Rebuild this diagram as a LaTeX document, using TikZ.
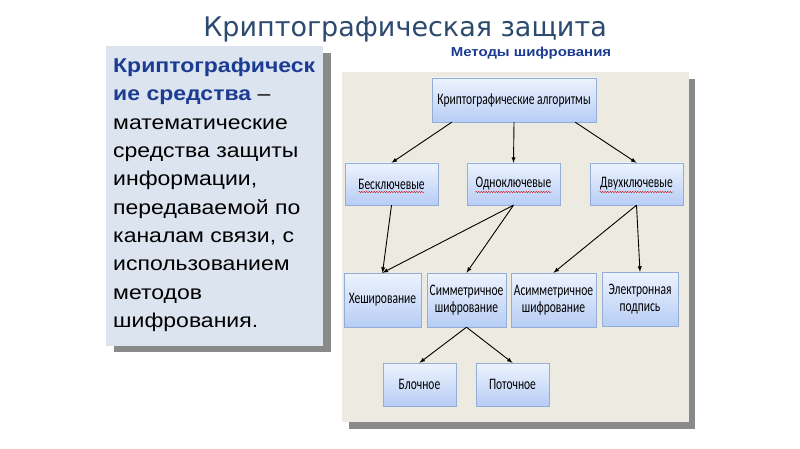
\documentclass[tikz,border=0pt]{standalone}
\usepackage{fontspec}
\setmainfont{Liberation Sans}
\newfontfamily\titlefont{DejaVu Sans}
\newfontfamily\notefont[FakeStretch=1.15]{Liberation Sans}
\newfontfamily\boxfont[FakeStretch=0.72]{Carlito}
\usetikzlibrary{shadings,decorations.pathmorphing}
\definecolor{titleblue}{HTML}{2B4A6D}
\definecolor{termblue}{HTML}{1B3C92}
\definecolor{notefill}{HTML}{DCE4F0}
\definecolor{panelfill}{HTML}{EDEAE1}
\definecolor{shadowgray}{HTML}{8A8A8A}
\definecolor{boxtop}{HTML}{EDF3FE}
\definecolor{boxbottom}{HTML}{B7CDF5}
\definecolor{boxline}{HTML}{93AED6}
\tikzset{
  >=latex,
  algbox/.style={draw=boxline,top color=boxtop,bottom color=boxbottom,
    font=\boxfont\fontsize{16}{17}\selectfont,align=center,inner sep=1pt},
  link/.style={->,line width=0.9pt,black},
  typo/.style={red!80!black,thin,decorate,
    decoration={snake,amplitude=.6pt,segment length=2.5pt}},
}
\begin{document}
\begin{tikzpicture}[x=1pt,y=-1pt]
  \useasboundingbox[fill=white] (0,0) rectangle (800,449);
  % title
  \node[anchor=base,text=titleblue,font=\titlefont\fontsize{27}{30}\selectfont] (title) at (405,37) {Криптографическая защита};
  \node[text=termblue,font=\notefont\bfseries\fontsize{13}{15}\selectfont] (methods) at (531,53) {Методы шифрования};
  % note on the left
  \fill[shadowgray] (114,53) rectangle (331,352);
  \fill[notefill] (106,46) rectangle (323,346);
  \node[anchor=north west,inner sep=0pt,align=left,
    font=\notefont\fontsize{20}{28.3}\selectfont] (note) at (113,58)
    {\textcolor{termblue}{\bfseries Криптографическ}\\
     \textcolor{termblue}{\bfseries ие средства} –\\
     математические\\
     средства защиты\\
     информации,\\
     передаваемой по\\
     каналам связи, с\\
     использованием\\
     методов\\
     шифрования.};
  % panel on the right
  \fill[shadowgray] (349,79) rectangle (695,429);
  \fill[panelfill] (342,72) rectangle (689,422);
  % tree
  \node[algbox,minimum width=164pt,minimum height=44pt] (alg) at (514,100) {Криптографические алгоритмы};
  \node[algbox,minimum width=93pt,minimum height=42pt] (bk) at (391.5,184) {Бесключевые};
  \node[algbox,minimum width=93pt,minimum height=42pt] (ok) at (513.5,184) {Одноключевые};
  \node[algbox,minimum width=93pt,minimum height=42pt] (dk) at (636.5,184) {Двухключевые};
  \node[algbox,minimum width=77pt,minimum height=54pt] (hash) at (382.5,300) {Хеширование};
  \node[algbox,minimum width=79pt,minimum height=54pt] (sym) at (466.5,300) {Симметричное\\шифрование};
  \node[algbox,minimum width=85pt,minimum height=54pt] (asym) at (553.5,300) {Асимметричное\\шифрование};
  \node[algbox,minimum width=76pt,minimum height=54pt] (sign) at (640,299) {Электронная\\подпись};
  \node[algbox,minimum width=73pt,minimum height=43pt] (block) at (419.5,384.5) {Блочное};
  \node[algbox,minimum width=73pt,minimum height=43pt] (stream) at (512.5,384.5) {Поточное};
  % spelling marks
  \foreach \n/\w in {bk/33,ok/38,dk/37}
    \draw[typo] ([xshift=-\w pt,yshift=-8pt]\n.center) -- ([xshift=\w pt,yshift=-8pt]\n.center);
  % arrows
  \draw[link] ([xshift=20pt]alg.south west) -- (bk.north);
  \draw[link] (alg.south) -- (ok.north);
  \draw[link] ([xshift=-21pt]alg.south east) -- (dk.north);
  \draw[link] (bk.south) -- (hash.north);
  \draw[link] (ok.south) -- (hash.north);
  \draw[link] (ok.south) -- (sym.north);
  \draw[link] (dk.south) -- (asym.north);
  \draw[link] (dk.south) -- (sign.north);
  \draw[link] (sym.south) -- (block.north);
  \draw[link] (sym.south) -- (stream.north);
\end{tikzpicture}
\end{document}
